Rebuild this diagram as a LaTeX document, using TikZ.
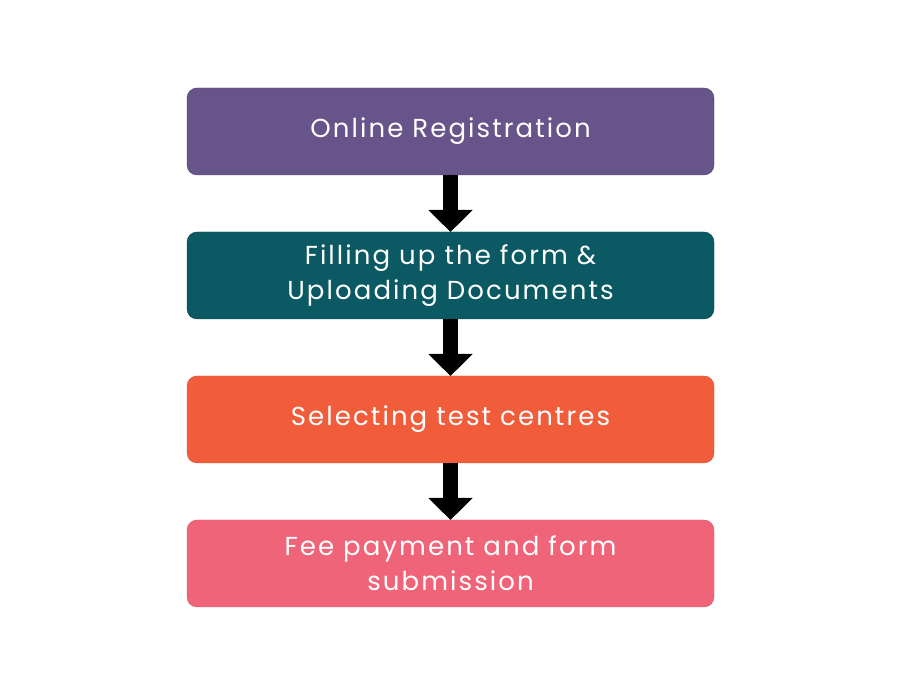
\documentclass[tikz,border=0pt]{standalone}
\usepackage{fontspec}
\setmainfont{Poppins}[LetterSpace=8]
\usetikzlibrary{arrows.meta}
\definecolor{regpurple}{HTML}{67548A}
\definecolor{formteal}{HTML}{0B5963}
\definecolor{centreorange}{HTML}{F15D3A}
\definecolor{feepink}{HTML}{F06479}
\tikzset{
  stepbox/.style={rectangle, rounded corners=10pt, minimum width=527pt, minimum height=87pt,
    inner sep=0pt, outer sep=0pt, text=white, align=center, font=\fontsize{26}{35}\selectfont},
  downarrow/.style={line width=15pt, -{Triangle[width=43pt, length=22pt]}}
}
\begin{document}
\begin{tikzpicture}[x=1pt, y=1pt]
\useasboundingbox (0,0) rectangle (900,675);
\node[stepbox, fill=regpurple, draw=regpurple!80!black] (reg) at (450.5,543.5){Online Registration};
\node[stepbox, fill=formteal, draw=formteal!80!black] (form) at (450.5,399.5){Filling up the form \&\\Uploading Documents};
\node[stepbox, fill=centreorange, draw=centreorange!90!black] (centre) at (450.5,255.5){Selecting test centres};
\node[stepbox, fill=feepink, draw=feepink!90!black] (fee) at (450.5,111.5){Fee payment and form\\submission};
\draw[downarrow](reg) -- (form);
\draw[downarrow](form) -- (centre);
\draw[downarrow](centre) -- (fee);
\end{tikzpicture}
\end{document}
